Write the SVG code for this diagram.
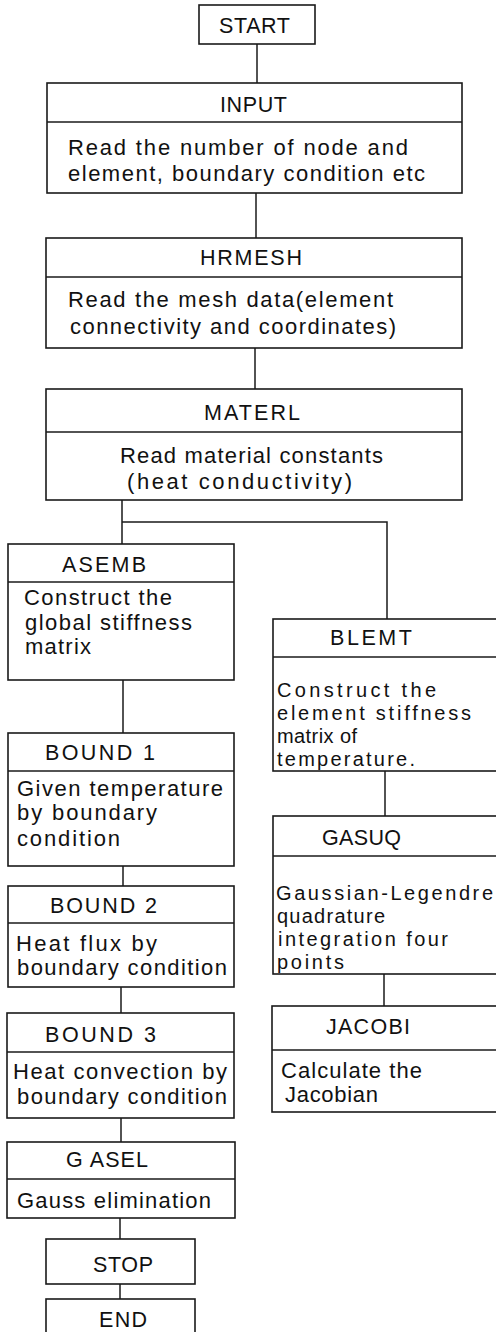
<svg xmlns="http://www.w3.org/2000/svg" width="496" height="1332" viewBox="0 0 496 1332">
<style>
rect.b{fill:#fff;stroke:#1a1a1a;stroke-width:1.6}
line.s,path.s{stroke:#1a1a1a;stroke-width:1.5;fill:none}
text{font-family:"Liberation Sans",Arial,sans-serif;fill:#111}
text.t{font-size:21.5px}
text.x{font-size:22px}
text.y{font-size:20px}
</style>
<rect width="496" height="1332" fill="#fff"/>
<g id="connectors">
<line class="s" x1="257" y1="44" x2="257" y2="83"/>
<line class="s" x1="256" y1="193" x2="256" y2="238"/>
<line class="s" x1="255" y1="348" x2="255" y2="389"/>
<path class="s" d="M122,500 V544 M122,522 H387 V619"/>
<line class="s" x1="123" y1="680" x2="123" y2="733"/>
<line class="s" x1="123" y1="866" x2="123" y2="886"/>
<line class="s" x1="121" y1="987" x2="121" y2="1013"/>
<line class="s" x1="121" y1="1118" x2="121" y2="1142"/>
<line class="s" x1="120" y1="1218" x2="120" y2="1239"/>
<line class="s" x1="120" y1="1284" x2="120" y2="1299"/>
<line class="s" x1="385" y1="771" x2="385" y2="816"/>
<line class="s" x1="384" y1="974" x2="384" y2="1006"/>
</g>
<g id="start">
<rect class="b" x="199" y="5" width="116" height="39"/>
<text class="t" x="219" y="33" textLength="71" lengthAdjust="spacing">START</text>
</g>
<g id="input">
<rect class="b" x="47" y="83" width="415" height="110"/>
<line class="s" x1="47" y1="122" x2="462" y2="122"/>
<text class="t" x="220" y="112" textLength="67" lengthAdjust="spacing">INPUT</text>
<text class="x" x="68" y="155" textLength="340" lengthAdjust="spacing">Read the number of node and</text>
<text class="x" x="68" y="181" textLength="357" lengthAdjust="spacing">element, boundary condition etc</text>
</g>
<g id="hrmesh">
<rect class="b" x="46" y="238" width="416" height="110"/>
<line class="s" x1="46" y1="277" x2="462" y2="277"/>
<text class="t" x="200" y="265" textLength="102" lengthAdjust="spacing">HRMESH</text>
<text class="x" x="68" y="307" textLength="325" lengthAdjust="spacing">Read the mesh data(element</text>
<text class="x" x="70" y="334" textLength="326" lengthAdjust="spacing">connectivity and coordinates)</text>
</g>
<g id="materl">
<rect class="b" x="46" y="389" width="416" height="111"/>
<line class="s" x1="46" y1="432" x2="462" y2="432"/>
<text class="t" x="204" y="420" textLength="96" lengthAdjust="spacing">MATERL</text>
<text class="x" x="120" y="463" textLength="263" lengthAdjust="spacing">Read material constants</text>
<text class="x" x="127" y="489" textLength="225" lengthAdjust="spacing">(heat conductivity)</text>
</g>
<g id="asemb">
<rect class="b" x="8" y="544" width="226" height="136"/>
<line class="s" x1="8" y1="582" x2="234" y2="582"/>
<text class="t" x="62" y="572" textLength="84" lengthAdjust="spacing">ASEMB</text>
<text class="x" x="24" y="605" textLength="148" lengthAdjust="spacing">Construct the</text>
<text class="x" x="25" y="630" textLength="167" lengthAdjust="spacing">global stiffness</text>
<text class="x" x="25" y="654" textLength="66" lengthAdjust="spacing">matrix</text>
</g>
<g id="bound1">
<rect class="b" x="8" y="733" width="226" height="133"/>
<line class="s" x1="8" y1="771" x2="234" y2="771"/>
<text class="t" x="45" y="760" textLength="110" lengthAdjust="spacing">BOUND 1</text>
<text class="x" x="17" y="796" textLength="206" lengthAdjust="spacing">Given temperature</text>
<text class="x" x="17" y="820" textLength="140" lengthAdjust="spacing">by boundary</text>
<text class="x" x="17" y="846" textLength="103" lengthAdjust="spacing">condition</text>
</g>
<g id="bound2">
<rect class="b" x="8" y="886" width="226" height="101"/>
<line class="s" x1="8" y1="923" x2="234" y2="923"/>
<text class="t" x="50" y="913" textLength="107" lengthAdjust="spacing">BOUND 2</text>
<text class="x" x="16" y="951" textLength="141" lengthAdjust="spacing">Heat flux by</text>
<text class="x" x="17" y="975" textLength="210" lengthAdjust="spacing">boundary condition</text>
</g>
<g id="bound3">
<rect class="b" x="7" y="1013" width="227" height="105"/>
<line class="s" x1="7" y1="1052" x2="234" y2="1052"/>
<text class="t" x="45" y="1042" textLength="111" lengthAdjust="spacing">BOUND 3</text>
<text class="x" x="13" y="1079" textLength="214" lengthAdjust="spacing">Heat convection by</text>
<text class="x" x="17" y="1104" textLength="210" lengthAdjust="spacing">boundary condition</text>
</g>
<g id="gasel">
<rect class="b" x="7" y="1142" width="228" height="76"/>
<line class="s" x1="7" y1="1179" x2="235" y2="1179"/>
<text class="t" x="66" y="1167" textLength="82" lengthAdjust="spacing">G ASEL</text>
<text class="x" x="17" y="1208" textLength="194" lengthAdjust="spacing">Gauss elimination</text>
</g>
<g id="stop">
<rect class="b" x="46" y="1239" width="149" height="45"/>
<text class="t" x="93" y="1272" textLength="60" lengthAdjust="spacing">STOP</text>
</g>
<g id="end">
<rect class="b" x="46" y="1299" width="149" height="45"/>
<text class="t" x="99" y="1327" textLength="48" lengthAdjust="spacing">END</text>
</g>
<g id="blemt">
<rect class="b" x="273" y="619" width="230" height="152"/>
<line class="s" x1="273" y1="657" x2="503" y2="657"/>
<text class="t" x="330" y="645" textLength="82" lengthAdjust="spacing">BLEMT</text>
<text class="y" x="277" y="697" textLength="159" lengthAdjust="spacing">Construct the</text>
<text class="y" x="277" y="720" textLength="194" lengthAdjust="spacing">element stiffness</text>
<text class="y" x="277" y="743" textLength="80" lengthAdjust="spacing">matrix of</text>
<text class="y" x="277" y="766" textLength="138" lengthAdjust="spacing">temperature.</text>
</g>
<g id="gasuq">
<rect class="b" x="273" y="816" width="230" height="158"/>
<line class="s" x1="273" y1="856" x2="503" y2="856"/>
<text class="t" x="322" y="845" textLength="79" lengthAdjust="spacing">GASUQ</text>
<text class="y" x="276" y="900" textLength="217" lengthAdjust="spacing">Gaussian-Legendre</text>
<text class="y" x="277" y="923" textLength="108" lengthAdjust="spacing">quadrature</text>
<text class="y" x="278" y="946" textLength="170" lengthAdjust="spacing">integration four</text>
<text class="y" x="277" y="969" textLength="67" lengthAdjust="spacing">points</text>
</g>
<g id="jacobi">
<rect class="b" x="272" y="1006" width="231" height="106"/>
<line class="s" x1="272" y1="1050" x2="503" y2="1050"/>
<text class="t" x="326" y="1034" textLength="84" lengthAdjust="spacing">JACOBI</text>
<text class="x" x="281" y="1078" textLength="141" lengthAdjust="spacing">Calculate the</text>
<text class="x" x="285" y="1102" textLength="93" lengthAdjust="spacing">Jacobian</text>
</g>
</svg>
